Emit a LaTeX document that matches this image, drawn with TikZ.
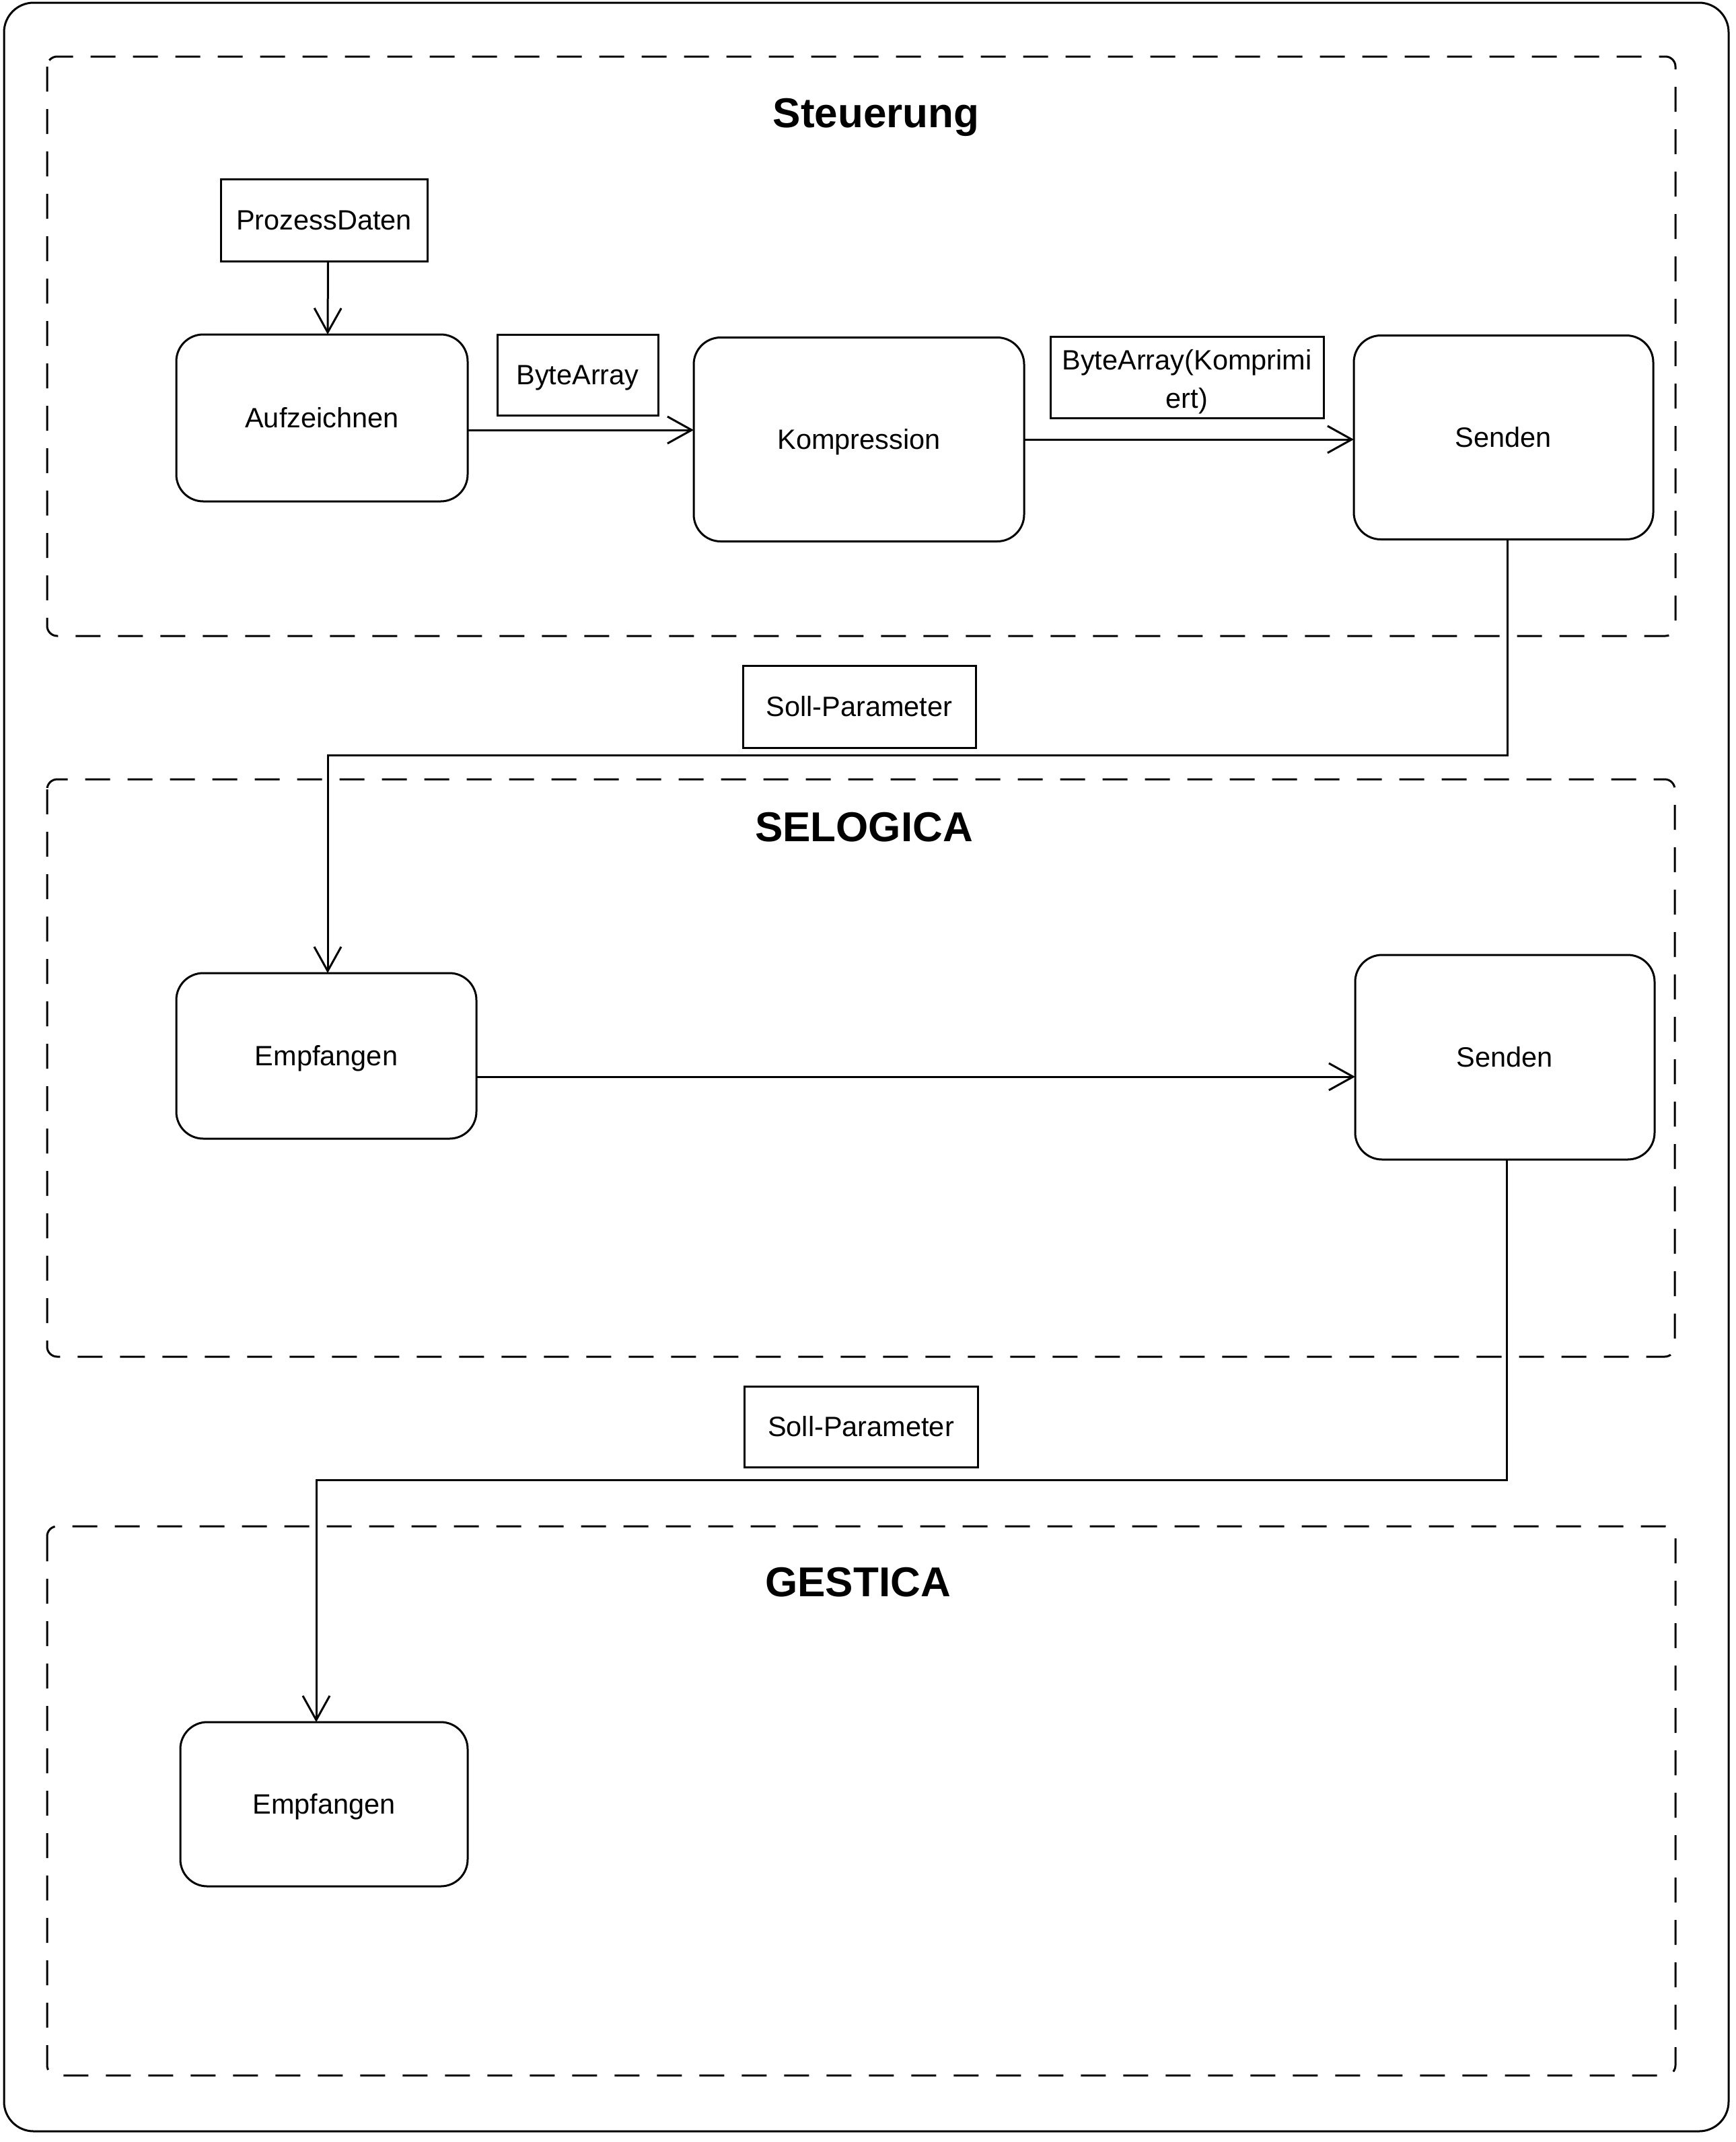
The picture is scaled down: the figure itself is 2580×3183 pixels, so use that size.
\documentclass[tikz,border=0pt]{standalone}
\usepackage{fontspec}
\setmainfont{Liberation Sans}
\usetikzlibrary{arrows.meta}
\begin{document}
\begin{tikzpicture}[x=1pt,y=-1pt,
  every node/.style={inner sep=0pt, outer sep=0pt},
  lw/.style={line width=3pt},
  txt/.style={font=\fontsize{41.5}{57}\selectfont, text height=29.7pt, text depth=0pt},
  state/.style={lw, draw, rounded corners=40pt, txt},
  label/.style={lw, draw, txt},
  title/.style={font=\bfseries\fontsize{62}{70}\selectfont, anchor=base},
  group/.style={lw, draw, dash pattern=on 37pt off 26pt, rounded corners=15pt},
  arr/.style={lw, -{Straight Barb[length=36pt,width=40pt,line width=3pt]}}
]
\useasboundingbox (0,0) rectangle (2580,3183);
% outer frame
\draw[lw, rounded corners=44pt] (6,4) rectangle (2569,3167);
% groups
\draw[group] (70,84) rectangle (2490,945);
\draw[group] (70,1158) rectangle (2489,2016);
\draw[group] (70,2268) rectangle (2490,3084);
% titles
\node[title] (t1) at (1302,189) {Steuerung};
\node[title] (t2) at (1284,1250) {SELOGICA};
\node[title] (t3) at (1275,2372) {GESTICA};
% Steuerung
\node[label, minimum width=307pt, minimum height=122pt] (pd) at (481.5,327) {ProzessDaten};
\node[state, minimum width=433pt, minimum height=248pt] (auf) at (478.5,621) {Aufzeichnen};
\node[label, minimum width=239pt, minimum height=120pt] (ba) at (858.5,557) {ByteArray};
\node[state, minimum width=491pt, minimum height=303pt] (komp) at (1276.5,653) {Kompression};
\node[lw, draw, minimum width=406pt, minimum height=121pt, font=\fontsize{41.5}{57}\selectfont] (bak) at (1764,561)
  {\raisebox{-6pt}[\height][\depth]{\begin{tabular}{@{}c@{}}ByteArray(Komprimi\\ert)\end{tabular}}};
\node[state, minimum width=445pt, minimum height=303pt] (s1) at (2234.5,650) {Senden};
% transfer 1
\node[label, minimum width=346pt, minimum height=122pt] (sp1) at (1277,1050) {Soll-Parameter};
% SELOGICA
\node[state, minimum width=446pt, minimum height=246pt] (e1) at (485,1569) {Empfangen};
\node[state, minimum width=445pt, minimum height=304pt] (s2) at (2236.5,1571) {Senden};
% transfer 2
\node[label, minimum width=347pt, minimum height=120pt] (sp2) at (1279.5,2120) {Soll-Parameter};
% GESTICA
\node[state, minimum width=427pt, minimum height=244pt] (e2) at (481.5,2681) {Empfangen};
% connectors
\draw[arr] ([xshift=6pt]pd.south) -- ([xshift=8.5pt]auf.north);
\draw[arr] ([yshift=-18pt]auf.east) -- ([yshift=-18pt]auf.east -| komp.west);
\draw[arr] (komp.east) -- (komp.east -| s1.west);
\draw[arr] ([xshift=5.5pt]s1.south) -- ++(0,321) -| ([xshift=2pt]e1.north);
\draw[arr] ([yshift=-31pt]e1.east) -- ([yshift=-31pt]e1.east -| s2.west);
\draw[arr] ([xshift=2.5pt]s2.south) -- ++(0,476) -| ([xshift=-11.5pt]e2.north);
\end{tikzpicture}
\end{document}
